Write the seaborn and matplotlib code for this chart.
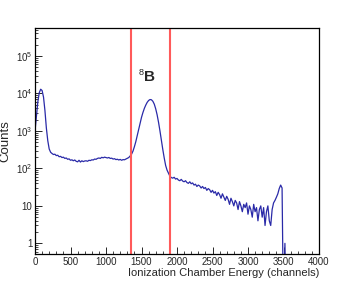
import numpy as np
import pandas as pd
import matplotlib
matplotlib.use("Agg")
import matplotlib.pyplot as plt
import seaborn as sns
from matplotlib.ticker import FixedLocator, FixedFormatter, MultipleLocator, LogLocator, NullFormatter

# ---- data ----
channels = list(range(0, 3560, 20))
counts = [
    1000, 2500, 6000, 10500, 13000, 12000, 8000, 3500, 1200, 550,
    330, 270, 250, 235, 240, 220, 225, 205, 210, 195,
    200, 185, 190, 175, 180, 165, 170, 160, 168, 155,
    150, 165, 148, 160, 152, 158, 160, 155, 165, 162,
    170, 168, 178, 175, 185, 190, 185, 198, 192, 200,
    195, 190, 196, 185, 188, 178, 182, 172, 176, 168,
    174, 165, 172, 170, 178, 185, 195, 215, 240, 290,
    380, 520, 750, 1100, 1600, 2300, 3100, 4000, 4900, 5800,
    6500, 6900, 6800, 6200, 5200, 3900, 2700, 1700, 1000, 560,
    320, 190, 120, 90, 75, 62, 57, 55, 58, 52,
    54, 49, 47, 51, 46, 44, 47, 42, 40, 44,
    39, 41, 36, 38, 33, 36, 34, 30, 33, 29,
    31, 26, 29, 27, 23, 26, 22, 24, 19, 23,
    20, 16, 21, 17, 14, 18, 15, 11, 16, 13,
    10, 14, 12, 8, 13, 10, 7, 11, 9, 12,
    6, 10, 8, 5, 11, 7, 9, 4, 8, 10,
    5, 9, 3, 7, 10, 4, 3, 8, 12, 14,
    17, 21, 29, 36, 30, 0.01, 1, 0.01,
]
cut_lines = [1355, 1905]
x_ticks = [0, 500, 1000, 1500, 2000, 2500, 3000, 3500, 4000]
y_ticks = [1, 10, 100, 1000, 10000, 100000]
y_tick_labels = ["1", "10", r"$10^{2}$", r"$10^{3}$", r"$10^{4}$", r"$10^{5}$"]
x_label = "Ionization Chamber Energy (channels)"
y_label = "Counts"

n = min(len(channels), len(counts))
df = pd.DataFrame({"ch": channels[:n], "counts": counts[:n]})

sns.set_style("white")
plt.rcParams["font.family"] = ["Liberation Sans", "DejaVu Sans"]
plt.rcParams["mathtext.fontset"] = "custom"
plt.rcParams["mathtext.rm"] = "Liberation Sans"

fig = plt.figure(figsize=(3.55, 2.83), dpi=100)
ax = fig.add_axes([35/355, 1-254/283, (319-35)/355, (254-28)/283])

sns.lineplot(data=df, x="ch", y="counts", ax=ax, color="#2a2aa8", linewidth=0.9)
for c in cut_lines:
    ax.axvline(c, color="#ff5a5a", linewidth=1.5)

ax.set_yscale("log")
ax.set_xlim(0, 4000)
ax.set_ylim(0.52, 5.6e5)

ax.xaxis.set_major_locator(FixedLocator(x_ticks))
ax.xaxis.set_minor_locator(MultipleLocator(100))
ax.set_xticklabels([str(t) for t in x_ticks])
ax.yaxis.set_major_locator(FixedLocator(y_ticks))
ax.yaxis.set_major_formatter(FixedFormatter(y_tick_labels))
ax.yaxis.set_minor_locator(LogLocator(base=10, subs=np.arange(2, 10)))
ax.yaxis.set_minor_formatter(NullFormatter())

ax.tick_params(axis="both", which="major", direction="in", length=5, width=0.7,
               labelsize=7, pad=2, top=False, right=False)
ax.tick_params(axis="both", which="minor", direction="in", length=2.5, width=0.6,
               top=False, right=False)
ax.tick_params(axis="both", which="both", bottom=True, left=True)

for s in ax.spines.values():
    s.set_linewidth(0.9)
    s.set_color("black")

ax.set_xlabel(x_label, fontsize=8, labelpad=1, loc="right")
ax.set_ylabel(y_label, fontsize=9.5)
ax.yaxis.set_label_coords((11 - 35) / 284, 0.5)

ax.text(1500, 2.8e4, "8", fontsize=6.5, ha="center", va="bottom")
ax.text(1540, 1.8e4, "B", fontsize=11, fontweight="bold", ha="left", va="bottom")

fig.savefig("out.png", dpi=100)
